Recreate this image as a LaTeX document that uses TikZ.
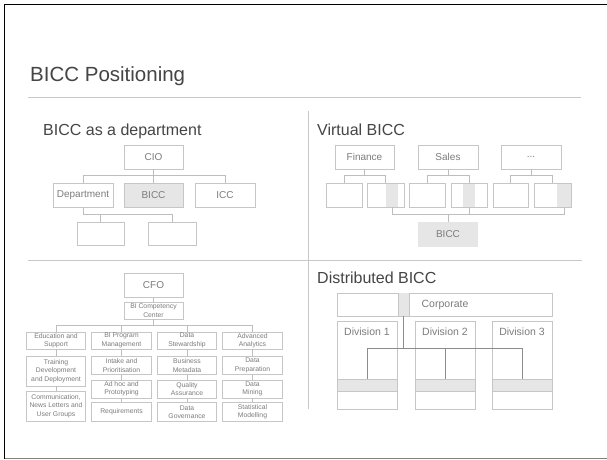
\documentclass[tikz,border=0pt]{standalone}
\usepackage{fontspec}
\setmainfont{Liberation Sans}

\definecolor{boxline}{HTML}{C6C6C6}
\definecolor{boxtext}{HTML}{7C7C7C}
\definecolor{shadefill}{HTML}{E6E6E6}
\definecolor{rulegray}{HTML}{C8C8C8}
\definecolor{conngray}{HTML}{BEBEBE}
\definecolor{darkconn}{HTML}{8C8C8C}
\definecolor{headtext}{HTML}{454545}

\begin{document}
\begin{tikzpicture}[x=1pt,y=-1pt,
  box/.style={draw=boxline, line width=0.7pt, text=boxtext, inner sep=0pt,
    align=center, font=\fontsize{10}{12}\selectfont},
  graybox/.style={box, fill=shadefill, draw=boxline},
  small/.style={box, font=\fontsize{6.8}{8.4}\selectfont, minimum width=59.5pt},
  conn/.style={draw=conngray, line width=0.7pt},
  dconn/.style={draw=darkconn, line width=0.7pt},
  sectiontitle/.style={anchor=base west, inner sep=0pt, text=headtext,
    font=\fontsize{16}{19}\selectfont},
  rulestyle/.style={draw=rulegray, line width=0.8pt}
]
\useasboundingbox (0,0) rectangle (607,459);
\fill[white] (0,0) rectangle (607,459);

% slide frame
\draw[black, line width=1.5pt] (4.5,459) -- (4.5,4.5) -- (607,4.5);
\draw[gray, line width=0.8pt] (4.5,458) -- (607,458);

% heading and section rules
\node[anchor=base west, inner sep=0pt, text=headtext,
      font=\fontsize{20.5}{24}\selectfont] (title) at (30,81) {BICC Positioning};
\draw[rulestyle] (28,97) -- (581,97);
\draw[rulestyle] (308,111) -- (308,409);
\draw[rulestyle] (28,260) -- (582,260);

% ---------- BICC as a department ----------
\node[sectiontitle] (t1) at (43,135) {BICC as a department};
\node[box, minimum width=59pt, minimum height=24pt] (cio) at (153.5,157) {CIO};
\node[box, minimum width=60pt, minimum height=24pt] (dept) at (83,195) {Department};
\node[graybox, minimum width=59pt, minimum height=24pt] (bicc) at (153.5,195) {BICC};
\node[box, minimum width=60pt, minimum height=24pt] (icc) at (225,195) {ICC};
\node[box, minimum width=47pt, minimum height=23pt] (sub1) at (100.5,233.5) {};
\node[box, minimum width=48pt, minimum height=23pt] (sub2) at (172,233.5) {};
\draw[conn] (cio.south) -- (bicc.north);
\draw[conn] (dept.north) -- ++(0,-7) -| (icc.north);
\draw[conn] (dept.south) -- ++(0,7) -| (sub2.north);
\draw[conn] (sub1.north) -- ++(0,-8);

% ---------- Virtual BICC ----------
\node[sectiontitle] (t2) at (317,135) {Virtual BICC};
\node[box, minimum width=59pt, minimum height=24pt] (fin) at (364.5,157) {Finance};
\node[box, minimum width=60pt, minimum height=24pt] (sales) at (448,157) {Sales};
\node[box, minimum width=60pt, minimum height=24pt] (more) at (531,157) {...};
% shaded stripes inside the unit boxes
\fill[shadefill] (386,183) rectangle (398,207);
\fill[shadefill] (463,183) rectangle (475,207);
\fill[shadefill] (557,183) rectangle (571,207);
\node[box, minimum width=36pt, minimum height=24pt] (v1) at (344,195) {};
\node[box, minimum width=37pt, minimum height=24pt] (v2) at (385.5,195) {};
\node[box, minimum width=36pt, minimum height=24pt] (v3) at (427,195) {};
\node[box, minimum width=36pt, minimum height=24pt] (v4) at (469,195) {};
\node[box, minimum width=35pt, minimum height=24pt] (v5) at (510.5,195) {};
\node[box, minimum width=37pt, minimum height=24pt] (v6) at (552.5,195) {};
\node[box, draw=none, fill=shadefill, minimum width=60pt, minimum height=25pt] (vbicc) at (448,234.5) {BICC};
\draw[conn] (fin.south) -- ++(0,7);
\draw[conn] (v1.north) -- ++(0,-7) -| (v2.north);
\draw[conn] (sales.south) -- ++(0,7);
\draw[conn] (v3.north) -- ++(0,-7) -| (v4.north);
\draw[conn] (more.south) -- ++(0,7);
\draw[conn] (v5.north) -- ++(0,-7) -| (v6.north);
\coordinate (s2) at (392,207);
\coordinate (s4) at (469,207);
\coordinate (s6) at (564,207);
\draw[conn] (s2) -- ++(0,7) -| (s6);
\draw[conn] (s4) -- ++(0,7);
\draw[conn] (vbicc.north) -- ++(0,-8);

% ---------- CFO organisation ----------
\node[box, minimum width=59pt, minimum height=24pt] (cfo) at (153.5,285) {CFO};
\node[small, minimum width=59pt, minimum height=17pt] (bicomp) at (153.5,310.5) {BI Competency\\Center};
\draw[conn] (cfo.south) -- (bicomp.north);

\node[small, minimum height=17pt] (a1) at (56,340.5) {Education and\\Support};
\node[small, minimum height=30pt] (a2) at (56,371) {Training\\Development\\and Deployment};
\node[small, minimum height=30pt] (a3) at (56,406) {Communication,\\News Letters and\\User Groups};

\node[small, minimum height=17pt] (b1) at (121.5,340.5) {BI Program\\Management};
\node[small, minimum height=18pt] (b2) at (121.5,365.5) {Intake and\\Prioritisation};
\node[small, minimum height=18pt] (b3) at (121.5,389) {Ad hoc and\\Prototyping};
\node[small, minimum height=19pt] (b4) at (121.5,412) {Requirements};

\node[small, minimum height=17pt] (c1) at (187,340.5) {Data\\Stewardship};
\node[small, minimum height=18pt] (c2) at (187,365.5) {Business\\Metadata};
\node[small, minimum height=18pt] (c3) at (187,389) {Quality\\Assurance};
\node[small, minimum height=19pt] (c4) at (187,412) {Data\\Governance};

\node[small, minimum height=17pt] (d1) at (252.5,340.5) {Advanced\\Analytics};
\node[small, minimum height=18pt] (d2) at (252.5,365.5) {Data\\Preparation};
\node[small, minimum height=18pt] (d3) at (252.5,389) {Data\\Mining};
\node[small, minimum height=19pt] (d4) at (252.5,412) {Statistical\\Modelling};

\draw[conn] (bicomp.south) -- ++(0,7);
\draw[conn] (a1.north) -- ++(0,-6) -| (d1.north);
\draw[conn] (b1.north) -- ++(0,-6);
\draw[conn] (c1.north) -- ++(0,-6);
\foreach \col in {a,b,c,d}{
  \draw[conn] (\col1.south) -- (\col2.north);
  \draw[conn] (\col2.south) -- (\col3.north);
}
\foreach \col in {b,c,d}{
  \draw[conn] (\col3.south) -- (\col4.north);
}

% ---------- Distributed BICC ----------
\node[sectiontitle] (t3) at (317,283) {Distributed BICC};
\node[box, minimum width=215pt, minimum height=23pt] (corp) at (444.5,304.5) {};
\fill[shadefill] (398,293) rectangle (409,316);
\draw[draw=boxline, line width=0.7pt] (398,293) -- (398,316) (409,293) -- (409,316);
\node[box, draw=none, font=\fontsize{10.5}{12}\selectfont] (corptext) at (445,304.5) {Corporate};

\node[box, minimum width=60pt, minimum height=88pt] (div1) at (367,365) {};
\node[box, minimum width=60pt, minimum height=88pt] (div2) at (445,365) {};
\node[box, minimum width=60pt, minimum height=88pt] (div3) at (522,365) {};
\node[box, draw=none, font=\fontsize{10.5}{12}\selectfont] (div1t) at (367,332) {Division 1};
\node[box, draw=none, font=\fontsize{10.5}{12}\selectfont] (div2t) at (445,332) {Division 2};
\node[box, draw=none, font=\fontsize{10.5}{12}\selectfont] (div3t) at (522,332) {Division 3};
\node[graybox, minimum width=60pt, minimum height=12pt] (bar1) at (367,385) {};
\node[graybox, minimum width=60pt, minimum height=12pt] (bar2) at (445,385) {};
\node[graybox, minimum width=60pt, minimum height=12pt] (bar3) at (522,385) {};

\coordinate (cs) at (403.5,316);
\draw[dconn] (cs) -- ++(0,33);
\draw[dconn] (bar1.north) -- ++(0,-30) -| (bar3.north);
\draw[dconn] (bar2.north) -- ++(0,-30);
\end{tikzpicture}
\end{document}
